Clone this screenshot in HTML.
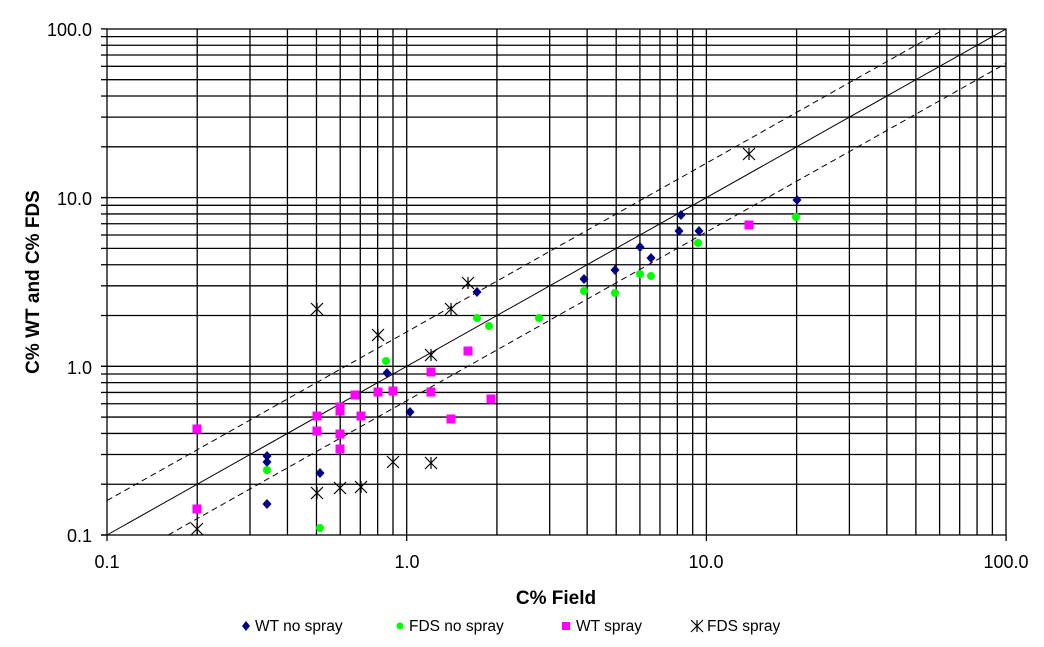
<!DOCTYPE html>
<html><head><meta charset="utf-8"><style>
html,body{margin:0;padding:0;background:#fff;}
svg{display:block;font-family:"Liberation Sans",Arial,sans-serif;}
</style></head><body>
<svg id="s" width="1044" height="647" viewBox="0 0 1044 647" xmlns="http://www.w3.org/2000/svg">
<g id="grid" stroke="#000" stroke-width="1.3"></g>
<rect x="107" y="29" width="899" height="506" fill="none" stroke="#000" stroke-width="1.3"/>
<g id="lines" fill="none" stroke="#000" stroke-width="1"></g>
<g id="pts"></g>
<g font-size="18" fill="#000" text-anchor="end">
<text x="92" y="36">100.0</text>
<text x="92" y="205">10.0</text>
<text x="92" y="374">1.0</text>
<text x="92" y="542">0.1</text>
</g>
<g font-size="18" fill="#000" text-anchor="middle">
<text x="107" y="568">0.1</text>
<text x="407" y="568">1.0</text>
<text x="706" y="568">10.0</text>
<text x="1006" y="568">100.0</text>
</g>
<text x="556" y="604" font-size="19" font-weight="bold" text-anchor="middle">C% Field</text>
<text transform="translate(39,282) rotate(-90)" font-size="19" font-weight="bold" text-anchor="middle">C% WT and C% FDS</text>
<g font-size="15.5" fill="#000" xml:space="preserve">
<path d="M246 621 l4 5 -4 5 -4 -5z" fill="#000080"/><text x="255" y="631">WT no spray</text>
<circle cx="400" cy="626" r="3.5" fill="#00ff00"/><text x="409" y="631">FDS  no spray</text>
<rect x="562" y="622" width="8" height="8" fill="#ff00ff"/><text x="576" y="631">WT spray</text>
<text x="707" y="631">FDS  spray</text>
</g>
</svg>
<script>
var NS="http://www.w3.org/2000/svg";
function el(p,t,a){var e=document.createElementNS(NS,t);for(var k in a)e.setAttribute(k,a[k]);p.appendChild(e);return e;}
var X0=107,XD=299.7,Y0=535,YD=168.7;
function px(v){return X0+(Math.log10(v)+1)*XD;}
function py(v){return Y0-(Math.log10(v)+1)*YD;}
var g=document.getElementById('grid');
for(var d=-1;d<2;d++)for(var m=1;m<10;m++){var v=m*Math.pow(10,d);
 if(v>0.1){var x=px(v);el(g,'line',{x1:x,y1:29,x2:x,y2:535});var y=py(v);el(g,'line',{x1:107,y1:y,x2:1006,y2:y});}
 el(g,'line',{x1:101,y1:py(v),x2:107,y2:py(v)}); }
[0.1,1,10,100].forEach(function(v){el(g,'line',{x1:px(v),y1:535,x2:px(v),y2:541});el(g,'line',{x1:101,y1:py(v),x2:107,y2:py(v)});});
var L=document.getElementById('lines');
el(L,'line',{x1:px(0.1),y1:py(0.1),x2:px(100),y2:py(100)});
var f=1.6;
el(L,'line',{x1:px(0.1),y1:py(0.1*f),x2:px(100/f),y2:py(100),'stroke-dasharray':'6,4'});
el(L,'line',{x1:px(0.1*f),y1:py(0.1),x2:px(100),y2:py(100/f),'stroke-dasharray':'6,4'});
var P=document.getElementById('pts');
var wt=[[267,456],[267,462],[267,504],[320,473],[387,373],[410,412],[477,292],[584,279],[615,270],[640,247],[651,258],[679,231],[681,215],[699,231],[797,200]];
wt.forEach(function(p){el(P,'path',{d:'M'+p[0]+' '+(p[1]-5)+' l4.5 5 -4.5 5 -4.5 -5z',fill:'#000080'});});
var fd=[[267,470],[320,528],[386,361],[477,318],[489,326],[539,318],[584,291],[615,293],[640,274],[651,276],[698,243],[796,217]];
fd.forEach(function(p){el(P,'circle',{cx:p[0],cy:p[1],r:4,fill:'#00ff00'});});
var ws=[[197,429],[197,509],[317,416],[317,431],[340,407],[340,411],[340,434],[340,449],[355,395],[361,416],[378,392],[393,391],[431,372],[431,392],[451,419],[468,351],[491,399],[749,225]];
ws.forEach(function(p){el(P,'rect',{x:p[0]-4.5,y:p[1]-4.5,width:9,height:9,fill:'#ff00ff'});});
var fs=[[197,529],[317,309],[317,493],[340,488],[361,487],[378,335],[393,462],[431,355],[431,463],[451,309],[468,283],[749,154],[697,626]];
fs.forEach(function(p){var x=p[0],y=p[1],r=6;
 el(P,'path',{d:'M'+(x-r)+' '+(y-r)+'L'+(x+r)+' '+(y+r)+'M'+(x-r)+' '+(y+r)+'L'+(x+r)+' '+(y-r)+'M'+x+' '+(y-r)+'L'+x+' '+(y+r),stroke:'#000','stroke-width':1.2,fill:'none'});});
</script>
</body></html>
